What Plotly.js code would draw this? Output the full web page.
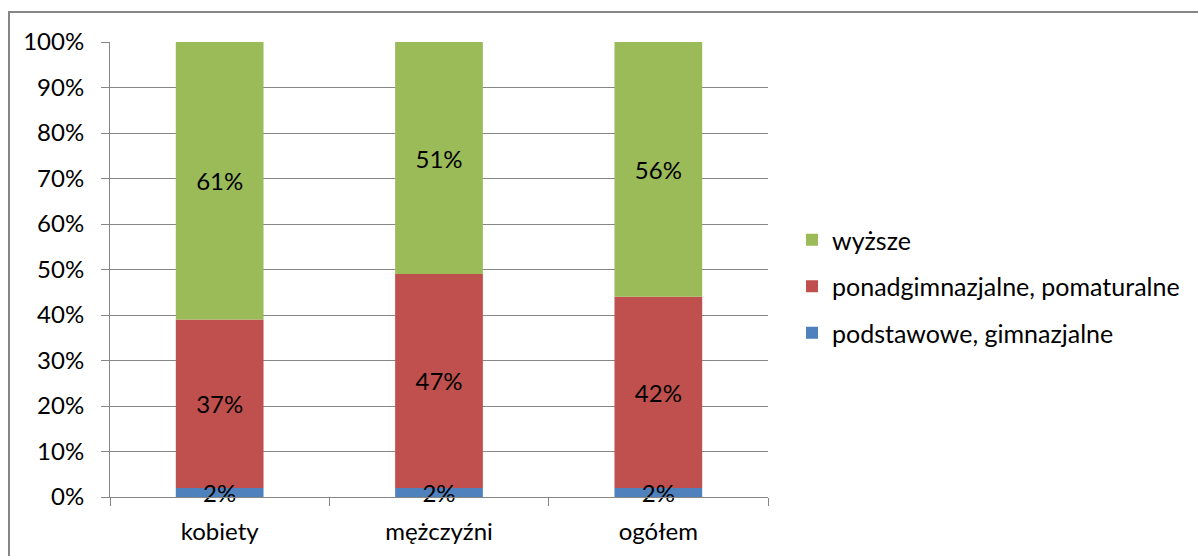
<!DOCTYPE html>
<html>
<head>
<meta charset="utf-8">
<script src="https://cdn.plot.ly/plotly-3.0.1.min.js"></script>
<style>
  html, body { margin: 0; padding: 0; background: #fff; }
  #chart { width: 1198px; height: 556px; }
</style>
</head>
<body>
<div id="chart"></div>
<script>
// Education level by sex (share of respondents, %)
const categories = ['kobiety', 'mężczyźni', 'ogółem'];
const podstawowe = [2, 2, 2];     // podstawowe, gimnazjalne
const ponadgimn = [37, 47, 42];   // ponadgimnazjalne, pomaturalne
const wyzsze = [61, 51, 56];      // wyższe
const yTicks = [0, 10, 20, 30, 40, 50, 60, 70, 80, 90, 100];

const FONT = 'Lato, "Open Sans", sans-serif';
const GRID = '#868686';
const LABEL_SIZE = 24;

// Segments are stacked through explicit bases, so the bottom segment can be
// drawn last and its label stays readable over the segment above it.
const zeros = categories.map(() => 0);
const baseRed = podstawowe.slice();
const baseGreen = podstawowe.map((v, i) => v + ponadgimn[i]);

function series(name, values, base, color, rank) {
  return {
    type: 'bar',
    name: name,
    x: categories,
    y: values,
    base: base,
    legendrank: rank,
    legendgroup: name,
    marker: { color: color, line: { width: 0 } },
    text: values.map(v => v + '%'),
    texttemplate: '%{text}',
    textposition: 'inside',
    insidetextanchor: 'middle',
    constraintext: 'none',
    cliponaxis: false,
    insidetextfont: { family: FONT, size: LABEL_SIZE, color: '#000' },
    hoverinfo: 'skip'
  };
}

const data = [
  series('ponadgimnazjalne, pomaturalne', ponadgimn, baseRed, '#C0504D', 2),
  series('wyższe', wyzsze, baseGreen, '#9BBB59', 1),
  series('podstawowe, gimnazjalne', podstawowe, zeros, '#4F81BD', 3)
];

const layout = {
  width: 1198,
  height: 556,
  margin: { l: 110, r: 430, t: 42, b: 59 },
  paper_bgcolor: '#fff',
  plot_bgcolor: '#fff',
  barmode: 'overlay',
  bargap: 0.6,
  font: { family: FONT, size: LABEL_SIZE, color: '#000' },
  showlegend: true,
  legend: {
    xref: 'container', yref: 'container',
    x: 792 / 1198, xanchor: 'left',
    y: 1 - 217 / 556, yanchor: 'top',
    traceorder: 'grouped',
    tracegroupgap: 11,
    font: { family: FONT, size: 25, color: '#000' },
    bgcolor: 'rgba(0,0,0,0)'
  },
  xaxis: {
    type: 'category',
    showgrid: false,
    showline: true,
    linecolor: GRID,
    linewidth: 1,
    ticks: 'outside',
    tickson: 'boundaries',
    ticklen: 8,
    tickcolor: GRID,
    ticklabelstandoff: 13,
    tickfont: { family: FONT, size: LABEL_SIZE, color: '#000' },
    fixedrange: true
  },
  yaxis: {
    range: [0, 100],
    autorange: false,
    tickvals: yTicks,
    ticktext: yTicks.map(v => v + '%'),
    showgrid: true,
    gridcolor: GRID,
    gridwidth: 1,
    zeroline: false,
    showline: true,
    linecolor: GRID,
    linewidth: 1,
    ticks: 'outside',
    ticklen: 8,
    tickcolor: GRID,
    ticklabelstandoff: 12,
    tickfont: { family: FONT, size: LABEL_SIZE, color: '#000' },
    fixedrange: true
  },
  shapes: [{
    // outer frame around the whole chart
    type: 'rect',
    xref: 'paper', yref: 'paper',
    x0: (9 - 110) / 658, x1: (1210 - 110) / 658,
    y0: (497 - 570) / 455, y1: (497 - 12) / 455,
    line: { color: GRID, width: 2 },
    fillcolor: 'rgba(0,0,0,0)',
    layer: 'below'
  }]
};

Plotly.newPlot('chart', data, layout, { displayModeBar: false, staticPlot: true });
</script>
</body>
</html>
